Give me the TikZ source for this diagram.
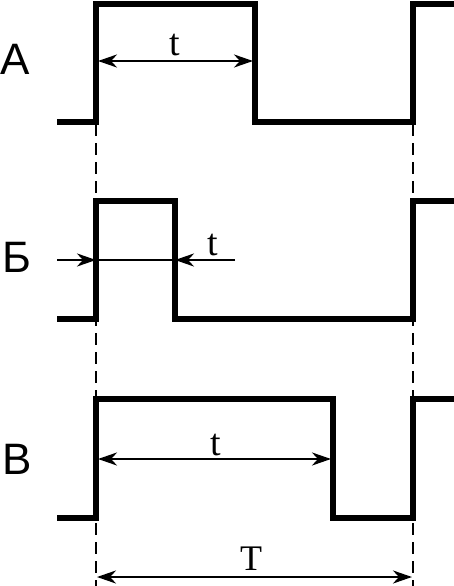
\documentclass[tikz,border=0pt]{standalone}
\usepackage{fontspec}
\setmainfont{Liberation Serif}
\newfontfamily\lblfont{Liberation Sans}
\usetikzlibrary{arrows.meta}
\begin{document}
\begin{tikzpicture}[x=1pt,y=-1pt,
  sig/.style={line width=6.3pt, line join=miter},
  guide/.style={line width=2.6pt, dash pattern=on 12pt off 7pt},
  tip/.tip={Stealth[length=19pt,width=13pt,inset=6pt]},
  dim/.style={line width=2.6pt},
  lbl/.style={font=\lblfont\fontsize{44}{44}\selectfont, anchor=west, inner sep=0pt},
  tl/.style={font=\fontsize{38}{38}\selectfont, inner sep=0pt, anchor=base}]
\useasboundingbox (0,0) rectangle (453,586);
% guide coordinates
\coordinate (g1top) at (96,124);
\coordinate (g1bot) at (96,586);
\coordinate (g2top) at (413,124);
\coordinate (g2bot) at (413,586);
\draw[guide] (g1top) -- (g1bot);
\draw[guide] (g2top) -- (g2bot);
% signals
\draw[sig] (57,122) -- (96,122) -- (96,4) -- (255,4) -- (255,122) -- (413,122) -- (413,4) -- (456,4);
\draw[sig] (57,319) -- (96,319) -- (96,201) -- (175,201) -- (175,319) -- (413,319) -- (413,201) -- (456,201);
\draw[sig] (57,518) -- (96,518) -- (96,399) -- (333,399) -- (333,518) -- (413,518) -- (413,399) -- (456,399);
% labels
\node[lbl] (la) at (0,59.5) {A};
\node[lbl] (lb) at (2,257) {Б};
\node[lbl] (lv) at (2,459) {В};
% A dimension
\coordinate (a1) at (98,61);
\coordinate (a2) at (253,61);
\draw[dim, tip-tip] (a1) -- (a2);
\node[tl] (ta) at (175,56) {t};
% B dimension
\coordinate (b0) at (57,260);
\coordinate (b1) at (96,260);
\coordinate (b2) at (175,260);
\coordinate (b3) at (235,260);
\draw[dim, -tip] (b0) -- (b1);
\draw[dim] (b1) -- (b2);
\draw[dim, -tip] (b3) -- (b2);
\node[tl] (tb) at (213,255) {t};
% V dimension
\coordinate (v1) at (98,459);
\coordinate (v2) at (331,459);
\draw[dim, tip-tip] (v1) -- (v2);
\node[tl] (tv) at (216,455) {t};
% period
\coordinate (p1) at (97,577);
\coordinate (p2) at (412,577);
\draw[dim, tip-tip] (p1) -- (p2);
\node[tl,font=\fontsize{36}{36}\selectfont] (tp) at (251,570) {T};
\end{tikzpicture}
\end{document}
